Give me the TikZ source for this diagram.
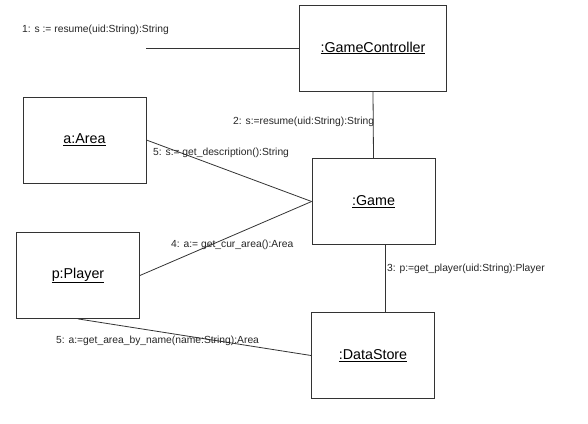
\documentclass[tikz,border=0pt]{standalone}
\usepackage{fontspec}
\setmainfont{Liberation Sans}
\usepackage{tikz}

\begin{document}
\begin{tikzpicture}[
    x=1pt, y=-1pt,
    obj/.style={draw=black!80, line width=0.8pt, fill=white, inner sep=0pt,
      minimum width=123pt, minimum height=86pt, font=\fontsize{14.3}{16}\selectfont},
    msg/.style={anchor=west, inner sep=0pt, text=black!85, font=\fontsize{10.3}{12}\selectfont},
    link/.style={draw=black!80, line width=0.8pt}
  ]
    \useasboundingbox (0,0) rectangle (588,423);
    \node[obj, minimum width=147pt] (ctrl) at (373,48) {\underline{:GameController}};
    \node[obj] (area) at (84.5,140) {\underline{a:Area}};
    \node[obj] (game) at (373.5,201.5) {\underline{:Game}};
    \node[obj] (player) at (78,275.5) {\underline{p:Player}};
    \node[obj] (store) at (373,355.5) {\underline{:DataStore}};
    \coordinate (caller) at (146,48);

    \draw[link] (caller) -- (ctrl.west);
    \draw[link] (ctrl.south) -- (game.north);
    \draw[link] (area.east) -- (game.west);
    \draw[link] (player.east) -- (game.west);
    \draw[link] ([xshift=11.5pt]game.south) -- ([xshift=12pt]store.north);
    \draw[link] (player.south) -- (store.west);

    \node[msg] (m1) at (22,30) {1: s := resume(uid:String):String};
    \node[msg] (m2) at (233,122) {2: s:=resume(uid:String):String};
    \node[msg] (m5a) at (153,153) {5: s:= get\_description():String};
    \node[msg] (m4) at (171,245) {4: a:= get\_cur\_area():Area};
    \node[msg] (m3) at (387,269) {3: p:=get\_player(uid:String):Player};
    \node[msg] (m5b) at (56,341) {5: a:=get\_area\_by\_name(name:String):Area};
\end{tikzpicture}
\end{document}
